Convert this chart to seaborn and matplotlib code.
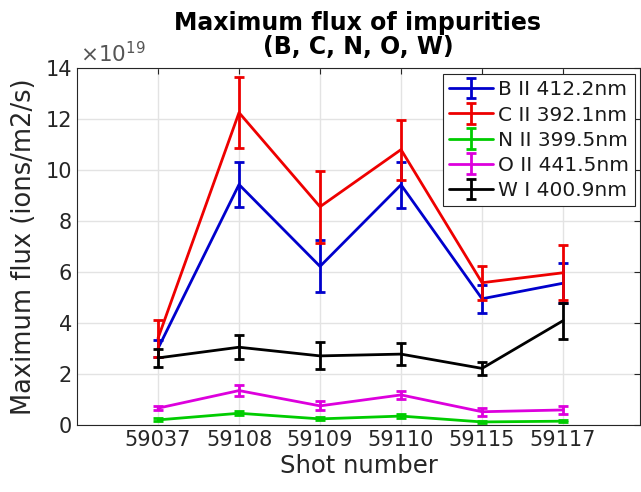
import numpy as np
import pandas as pd
import matplotlib
matplotlib.use("Agg")
import matplotlib.pyplot as plt
import seaborn as sns

shots = ["59037", "59108", "59109", "59110", "59115", "59117"]
series_names = ["B II 412.2nm", "C II 392.1nm", "N II 399.5nm", "O II 441.5nm", "W I 400.9nm"]
b_vals = [3.00, 9.43, 6.22, 9.42, 4.95, 5.56]
b_err = [0.35, 0.88, 1.02, 0.90, 0.55, 0.78]
c_vals = [3.40, 12.25, 8.56, 10.80, 5.58, 5.97]
c_err = [0.72, 1.40, 1.41, 1.18, 0.67, 1.07]
n_vals = [0.20, 0.46, 0.24, 0.35, 0.12, 0.15]
n_err = [0.06, 0.07, 0.06, 0.07, 0.05, 0.05]
o_vals = [0.66, 1.35, 0.75, 1.18, 0.52, 0.59]
o_err = [0.08, 0.20, 0.18, 0.15, 0.15, 0.15]
w_vals = [2.63, 3.05, 2.71, 2.78, 2.22, 4.09]
w_err = [0.35, 0.46, 0.53, 0.43, 0.26, 0.70]

colors = ["#0000CC", "#EE0000", "#00CC00", "#DD00DD", "#000000"]
vals = [b_vals, c_vals, n_vals, o_vals, w_vals]
errs = [b_err, c_err, n_err, o_err, w_err]

sns.set_style("white")
plt.rcParams["font.family"] = ["DejaVu Sans"]

fig = plt.figure(figsize=(6.41, 4.92), dpi=100)
ax = fig.add_axes([77/641, 1-425/492, (640-77)/641, (425-68)/492])

pos = np.arange(1, len(shots) + 1)
handles = []
for name, v, e, col in zip(series_names, vals, errs, colors):
    df = pd.DataFrame({"x": pos, "y": v})
    sns.lineplot(data=df, x="x", y="y", ax=ax, color=col, linewidth=2, legend=False)
    ax.errorbar(pos, v, yerr=e, fmt="none", ecolor=col, elinewidth=2,
                capsize=3.5, capthick=2)
    proxy = ax.errorbar([np.nan], [np.nan], yerr=[np.nan], fmt="-", color=col,
                        linewidth=2, elinewidth=2, capsize=3.5, capthick=2)
    handles.append(proxy)

ax.set_xlim(0, 6.95)
ax.set_ylim(0, 14)
ax.set_xticks(pos)
ax.set_xticklabels(shots)
ax.set_yticks(np.arange(0, 15, 2))
ax.grid(True, color="#E3E3E3", linewidth=1)
ax.set_axisbelow(True)
for s in ax.spines.values():
    s.set_color("#262626")
    s.set_linewidth(0.8)
ax.tick_params(direction="in", top=True, right=True, length=4, color="#262626",
               labelsize=15, labelcolor="#262626", width=0.8)
ax.set_xlabel("Shot number", fontsize=17.5, color="#262626", labelpad=3)
ax.set_ylabel("Maximum flux (ions/m2/s)", fontsize=18.5, color="#262626", labelpad=6)
ax.text(0.005, 1.005, r"$\times10^{19}$", transform=ax.transAxes, fontsize=15.5,
        color="#555555", ha="left", va="bottom")
fig.text(358/641, 1-35/492, "Maximum flux of impurities\n(B, C, N, O, W)",
         ha="center", va="center", fontsize=17, fontweight="bold", linespacing=1.05,
         color="black")

leg = ax.legend(handles, series_names,
                loc="upper right", bbox_to_anchor=(0.992, 0.982), fontsize=14.5,
                frameon=True, fancybox=False, edgecolor="#262626", framealpha=1,
                handlelength=2.2, handletextpad=0.25, borderpad=0.3, labelspacing=0.3,
                borderaxespad=0)
leg.get_frame().set_linewidth(0.8)
for t in leg.get_texts():
    t.set_color("#1a1a1a")

fig.savefig("out.png", dpi=100)
